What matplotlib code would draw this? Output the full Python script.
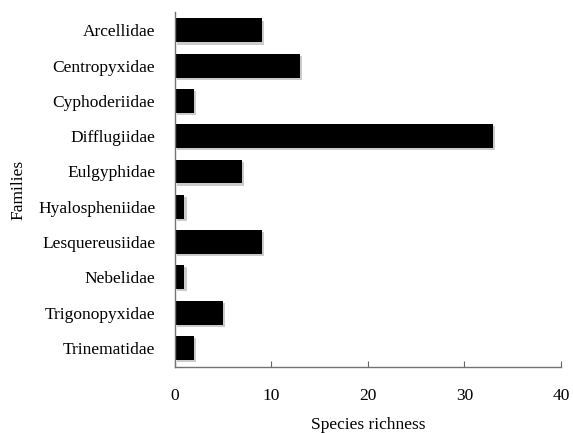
import matplotlib
matplotlib.use("Agg")
import matplotlib.pyplot as plt
import matplotlib.patheffects as pe

families = ["Arcellidae", "Centropyxidae", "Cyphoderiidae", "Difflugiidae", "Eulgyphidae",
            "Hyalospheniidae", "Lesquereusiidae", "Nebelidae", "Trigonopyxidae", "Trinematidae"]
richness = [9, 13, 2, 33, 7, 1, 9, 1, 5, 2]

plt.rcParams['font.family'] = ['Liberation Serif', 'DejaVu Serif']

fig = plt.figure(figsize=(5.73, 4.33), dpi=100)
ax = fig.add_axes([0.305, 0.152, 0.674, 0.82])

pos = list(range(len(families)))
bars = ax.barh(pos, richness, height=0.68, color="black")
for b in bars:
    b.set_path_effects([pe.SimplePatchShadow(offset=(1.5, -1.5), shadow_rgbFace="0.6", alpha=0.5), pe.Normal()])

ax.set_ylim(len(families) - 0.45, -0.52)
ax.set_xlim(0, 40)
ax.set_xticks([0, 10, 20, 30, 40])
ax.set_yticks(pos)
ax.set_yticklabels(families, fontsize=12.5)
ax.tick_params(axis="y", length=0, pad=14)
ax.tick_params(axis="x", direction="in", length=4, pad=15, labelsize=12.5, color="0.4")

for s in ["top", "right"]:
    ax.spines[s].set_visible(False)
for s in ["left", "bottom"]:
    ax.spines[s].set_color("0.45")
    ax.spines[s].set_linewidth(1.0)

ax.set_xlabel("Species richness", fontsize=12.5, labelpad=9)
ax.set_ylabel("Families", fontsize=12.5)
ax.yaxis.set_label_coords(-0.385, 0.5)

fig.savefig("out.png", dpi=100)
